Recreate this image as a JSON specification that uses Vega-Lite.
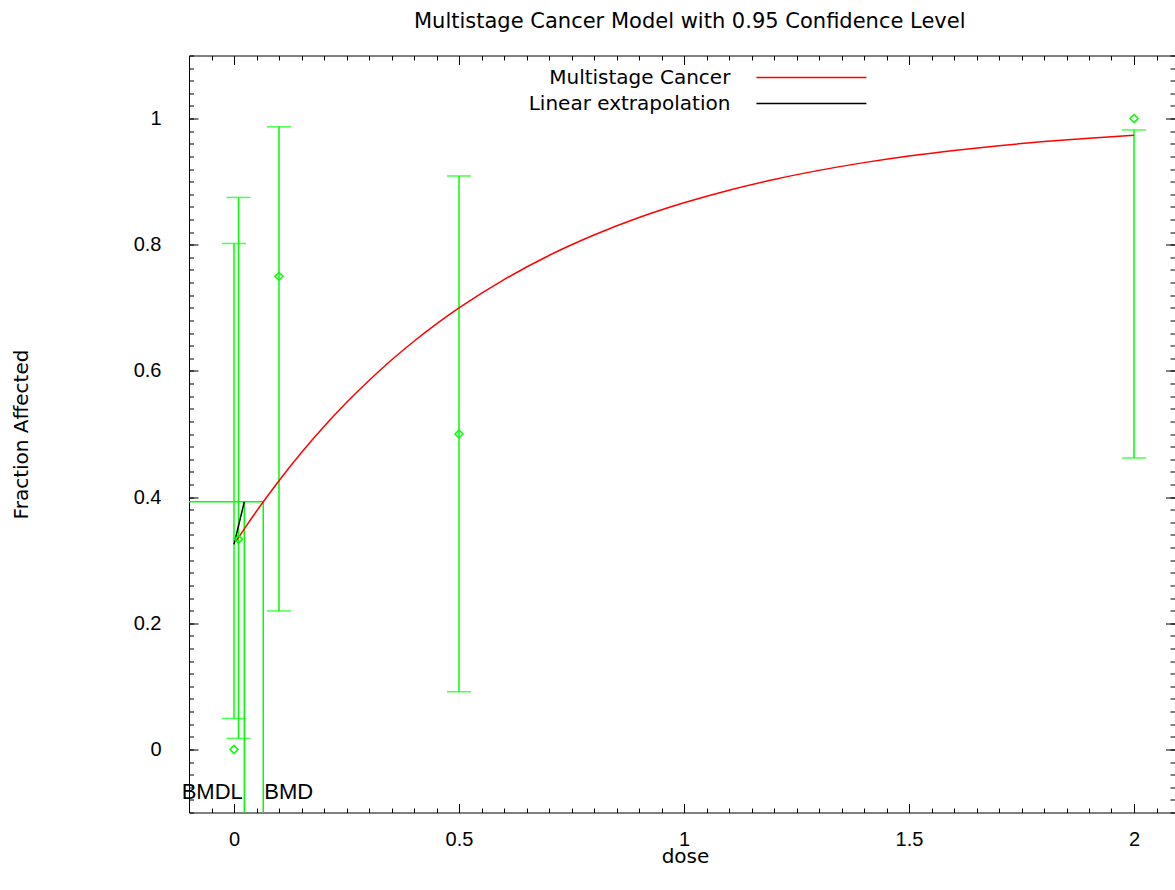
{
  "$schema": "https://vega.github.io/schema/vega-lite/v6.json",
  "usermeta": {"embedOptions": {"actions": false}},
  "width": 985.5,
  "height": 757,
  "autosize": {"type": "none"},
  "padding": {"left": 189, "top": 55.5, "right": 0, "bottom": 77.5},
  "background": "white",
  "config": {
    "view": {"stroke": null},
    "axis": {
      "grid": false,
      "domainColor": "black",
      "tickColor": "black",
      "labelColor": "black",
      "titleColor": "black",
      "labelFont": "Liberation Sans",
      "labelFontSize": 20,
      "titleFont": "DejaVu Sans",
      "titleFontSize": 20,
      "titleFontWeight": "normal"
    }
  },
  "title": {
    "text": "Multistage Cancer Model with 0.95 Confidence Level",
    "font": "DejaVu Sans",
    "fontSize": 21,
    "fontWeight": "normal",
    "color": "black",
    "anchor": "middle",
    "baseline": "alphabetic",
    "offset": 6.5,
    "dx": 8
  },
  "datasets": {
    "obs": [
      {"dose": 0, "frac": 0, "lower": 0.049, "upper": 0.802},
      {"dose": 0.01, "frac": 0.333, "lower": 0.0175, "upper": 0.875},
      {"dose": 0.1, "frac": 0.75, "lower": 0.2195, "upper": 0.987},
      {"dose": 0.5, "frac": 0.5, "lower": 0.0914, "upper": 0.909},
      {"dose": 2, "frac": 1, "lower": 0.462, "upper": 0.982}
    ],
    "bmd": [
      {"x": -0.1, "x2": 0.065, "y": 0.3925, "y2": 0.3925},
      {"x": 0.0229, "x2": 0.0229, "y": 0.3925, "y2": -0.1},
      {"x": 0.065, "x2": 0.065, "y": 0.3925, "y2": -0.1}
    ],
    "curve": [
      {"dose": 0.004, "frac": 0.3294, "series": "Multistage Cancer"},
      {"dose": 0.02, "frac": 0.3465, "series": "Multistage Cancer"},
      {"dose": 0.05, "frac": 0.3776, "series": "Multistage Cancer"},
      {"dose": 0.1, "frac": 0.426, "series": "Multistage Cancer"},
      {"dose": 0.15, "frac": 0.4707, "series": "Multistage Cancer"},
      {"dose": 0.2, "frac": 0.5119, "series": "Multistage Cancer"},
      {"dose": 0.25, "frac": 0.5499, "series": "Multistage Cancer"},
      {"dose": 0.3, "frac": 0.5849, "series": "Multistage Cancer"},
      {"dose": 0.35, "frac": 0.6173, "series": "Multistage Cancer"},
      {"dose": 0.4, "frac": 0.647, "series": "Multistage Cancer"},
      {"dose": 0.45, "frac": 0.6745, "series": "Multistage Cancer"},
      {"dose": 0.5, "frac": 0.6999, "series": "Multistage Cancer"},
      {"dose": 0.6, "frac": 0.7448, "series": "Multistage Cancer"},
      {"dose": 0.7, "frac": 0.783, "series": "Multistage Cancer"},
      {"dose": 0.8, "frac": 0.8154, "series": "Multistage Cancer"},
      {"dose": 0.9, "frac": 0.8431, "series": "Multistage Cancer"},
      {"dose": 1.0, "frac": 0.8665, "series": "Multistage Cancer"},
      {"dose": 1.1, "frac": 0.8865, "series": "Multistage Cancer"},
      {"dose": 1.2, "frac": 0.9035, "series": "Multistage Cancer"},
      {"dose": 1.3, "frac": 0.9179, "series": "Multistage Cancer"},
      {"dose": 1.4, "frac": 0.9302, "series": "Multistage Cancer"},
      {"dose": 1.5, "frac": 0.9407, "series": "Multistage Cancer"},
      {"dose": 1.6, "frac": 0.9495, "series": "Multistage Cancer"},
      {"dose": 1.7, "frac": 0.9571, "series": "Multistage Cancer"},
      {"dose": 1.8, "frac": 0.9635, "series": "Multistage Cancer"},
      {"dose": 1.9, "frac": 0.969, "series": "Multistage Cancer"},
      {"dose": 2.0, "frac": 0.9736, "series": "Multistage Cancer"}
    ],
    "linear": [
      {"dose": 0, "frac": 0.325, "series": "Linear extrapolation"},
      {"dose": 0.0229, "frac": 0.3925, "series": "Linear extrapolation"}
    ],
    "labels": [
      {"label": "BMDL", "dose": 0.0229},
      {"label": "BMD", "dose": 0.065}
    ]
  },
  "resolve": {"axis": {"x": "independent", "y": "independent"}},
  "layer": [
    {
      "data": {"name": "bmd"},
      "mark": {"type": "rule", "color": "#00ff00", "strokeWidth": 1.5},
      "encoding": {
        "x": {"field": "x", "type": "quantitative", "scale": {"domain": [-0.1, 2.09], "nice": false, "zero": false},
          "axis": {"orient": "top", "labels": false, "domain": false, "tickSize": -4.5, "title": null,
            "values": [-0.1,-0.05,0,0.05,0.1,0.15,0.2,0.25,0.3,0.35,0.4,0.45,0.5,0.55,0.6,0.65,0.7,0.75,0.8,0.85,0.9,0.95,1,1.05,1.1,1.15,1.2,1.25,1.3,1.35,1.4,1.45,1.5,1.55,1.6,1.65,1.7,1.75,1.8,1.85,1.9,1.95,2,2.05]}},
        "x2": {"field": "x2"},
        "y": {"field": "y", "type": "quantitative", "scale": {"domain": [-0.1, 1.1], "nice": false, "zero": false},
          "axis": {"orient": "right", "labels": false, "domain": false, "tickSize": -4.5, "title": null,
            "values": [-0.1,-0.08,-0.06,-0.04,-0.02,0,0.02,0.04,0.06,0.08,0.1,0.12,0.14,0.16,0.18,0.2,0.22,0.24,0.26,0.28,0.3,0.32,0.34,0.36,0.38,0.4,0.42,0.44,0.46,0.48,0.5,0.52,0.54,0.56,0.58,0.6,0.62,0.64,0.66,0.68,0.7,0.72,0.74,0.76,0.78,0.8,0.82,0.84,0.86,0.88,0.9,0.92,0.94,0.96,0.98,1,1.02,1.04,1.06,1.08,1.1]}},
        "y2": {"field": "y2"}
      }
    },
    {
      "data": {"name": "obs"},
      "mark": {"type": "rule", "color": "#00ff00", "strokeWidth": 1.5},
      "encoding": {
        "x": {"field": "dose", "type": "quantitative", "scale": {"domain": [-0.1, 2.09], "nice": false, "zero": false},
          "axis": {"orient": "bottom", "values": [0, 0.5, 1, 1.5, 2], "format": "~g", "ticks": false, "tickSize": 0, "domain": true, "domainWidth": 1,
            "labelPadding": 17, "labelFlush": false, "labelOverlap": false,
            "title": "dose", "titleX": 496, "titleY": 50, "titleBaseline": "alphabetic"}},
        "y": {"field": "lower", "type": "quantitative", "scale": {"domain": [-0.1, 1.1], "nice": false, "zero": false},
          "axis": {"orient": "left", "values": [0, 0.2, 0.4, 0.6, 0.8, 1], "format": "~g", "ticks": false, "tickSize": 0, "domain": true, "domainWidth": 1,
            "labelPadding": 28, "labelFlush": false, "labelOverlap": false,
            "title": "Fraction Affected", "titleX": -162, "titleY": 378.5, "titleAngle": -90, "titleBaseline": "alphabetic"}},
        "y2": {"field": "upper"}
      }
    },
    {
      "data": {"name": "obs"},
      "mark": {"type": "tick", "orient": "horizontal", "color": "#00ff00", "size": 24, "thickness": 1.5},
      "encoding": {
        "x": {"field": "dose", "type": "quantitative", "scale": {"domain": [-0.1, 2.09], "nice": false, "zero": false},
          "axis": {"orient": "bottom", "values": [0, 0.5, 1, 1.5, 2], "labels": false, "domain": false, "tickSize": -9, "title": null}},
        "y": {"field": "lower", "type": "quantitative", "scale": {"domain": [-0.1, 1.1], "nice": false, "zero": false},
          "axis": {"orient": "left", "values": [0, 0.2, 0.4, 0.6, 0.8, 1], "labels": false, "domain": false, "tickSize": -9, "title": null}}
      }
    },
    {
      "data": {"name": "obs"},
      "mark": {"type": "tick", "orient": "horizontal", "color": "#00ff00", "size": 24, "thickness": 1.5},
      "encoding": {
        "x": {"field": "dose", "type": "quantitative", "scale": {"domain": [-0.1, 2.09], "nice": false, "zero": false},
          "axis": {"orient": "bottom", "labels": false, "domain": false, "tickSize": -4.5, "title": null,
            "values": [-0.1,-0.05,0,0.05,0.1,0.15,0.2,0.25,0.3,0.35,0.4,0.45,0.5,0.55,0.6,0.65,0.7,0.75,0.8,0.85,0.9,0.95,1,1.05,1.1,1.15,1.2,1.25,1.3,1.35,1.4,1.45,1.5,1.55,1.6,1.65,1.7,1.75,1.8,1.85,1.9,1.95,2,2.05]}},
        "y": {"field": "upper", "type": "quantitative", "scale": {"domain": [-0.1, 1.1], "nice": false, "zero": false},
          "axis": {"orient": "left", "labels": false, "domain": false, "tickSize": -4.5, "title": null,
            "values": [-0.1,-0.08,-0.06,-0.04,-0.02,0,0.02,0.04,0.06,0.08,0.1,0.12,0.14,0.16,0.18,0.2,0.22,0.24,0.26,0.28,0.3,0.32,0.34,0.36,0.38,0.4,0.42,0.44,0.46,0.48,0.5,0.52,0.54,0.56,0.58,0.6,0.62,0.64,0.66,0.68,0.7,0.72,0.74,0.76,0.78,0.8,0.82,0.84,0.86,0.88,0.9,0.92,0.94,0.96,0.98,1,1.02,1.04,1.06,1.08,1.1]}}
      }
    },
    {
      "data": {"name": "curve"},
      "mark": {"type": "line", "strokeWidth": 1.5, "interpolate": "monotone"},
      "encoding": {
        "x": {"field": "dose", "type": "quantitative", "scale": {"domain": [-0.1, 2.09], "nice": false, "zero": false}, "axis": null},
        "y": {"field": "frac", "type": "quantitative", "scale": {"domain": [-0.1, 1.1], "nice": false, "zero": false}, "axis": null},
        "color": {"field": "series", "type": "nominal",
          "scale": {"domain": ["Multistage Cancer", "Linear extrapolation"], "range": ["#ff0000", "#000000"]},
          "legend": {"orient": "none", "legendX": 610.4, "legendY": 10, "title": null, "symbolType": "M-5,0L5,0", "symbolSize": 484,
            "symbolStrokeWidth": 1.5, "labelAlign": "right", "labelOffset": -93, "labelFont": "DejaVu Sans", "labelFontSize": 20,
            "labelColor": "black", "labelLimit": 0, "rowPadding": 4, "padding": 0, "labelBaseline": "middle"}}
      }
    },
    {
      "data": {"name": "linear"},
      "mark": {"type": "line", "strokeWidth": 1.5},
      "encoding": {
        "x": {"field": "dose", "type": "quantitative", "scale": {"domain": [-0.1, 2.09], "nice": false, "zero": false}, "axis": null},
        "y": {"field": "frac", "type": "quantitative", "scale": {"domain": [-0.1, 1.1], "nice": false, "zero": false}, "axis": null},
        "color": {"field": "series", "type": "nominal"}
      }
    },
    {
      "data": {"name": "obs"},
      "mark": {"type": "point", "shape": "diamond", "filled": false, "color": "#00ff00", "size": 64, "strokeWidth": 1.5, "opacity": 1},
      "encoding": {
        "x": {"field": "dose", "type": "quantitative", "scale": {"domain": [-0.1, 2.09], "nice": false, "zero": false},
          "axis": {"orient": "top", "values": [0, 0.5, 1, 1.5, 2], "labels": false, "domain": true, "domainWidth": 1, "tickSize": -9, "title": null}},
        "y": {"field": "frac", "type": "quantitative", "scale": {"domain": [-0.1, 1.1], "nice": false, "zero": false},
          "axis": {"orient": "right", "values": [0, 0.2, 0.4, 0.6, 0.8, 1], "labels": false, "domain": false, "tickSize": -9, "title": null}}
      }
    },
    {
      "data": {"name": "labels"},
      "transform": [{"filter": "datum.label == 'BMDL'"}],
      "mark": {"type": "text", "font": "Liberation Sans", "fontSize": 22, "align": "right", "baseline": "alphabetic", "dx": -1.5, "color": "black"},
      "encoding": {
        "x": {"field": "dose", "type": "quantitative", "scale": {"domain": [-0.1, 2.09], "nice": false, "zero": false}, "axis": null},
        "y": {"datum": -0.0786, "type": "quantitative", "scale": {"domain": [-0.1, 1.1], "nice": false, "zero": false}, "axis": null},
        "text": {"field": "label"}
      }
    },
    {
      "data": {"name": "labels"},
      "transform": [{"filter": "datum.label == 'BMD'"}],
      "mark": {"type": "text", "font": "Liberation Sans", "fontSize": 22, "align": "left", "baseline": "alphabetic", "dx": 1, "color": "black"},
      "encoding": {
        "x": {"field": "dose", "type": "quantitative", "scale": {"domain": [-0.1, 2.09], "nice": false, "zero": false}, "axis": null},
        "y": {"datum": -0.0786, "type": "quantitative", "scale": {"domain": [-0.1, 1.1], "nice": false, "zero": false}, "axis": null},
        "text": {"field": "label"}
      }
    }
  ]
}
